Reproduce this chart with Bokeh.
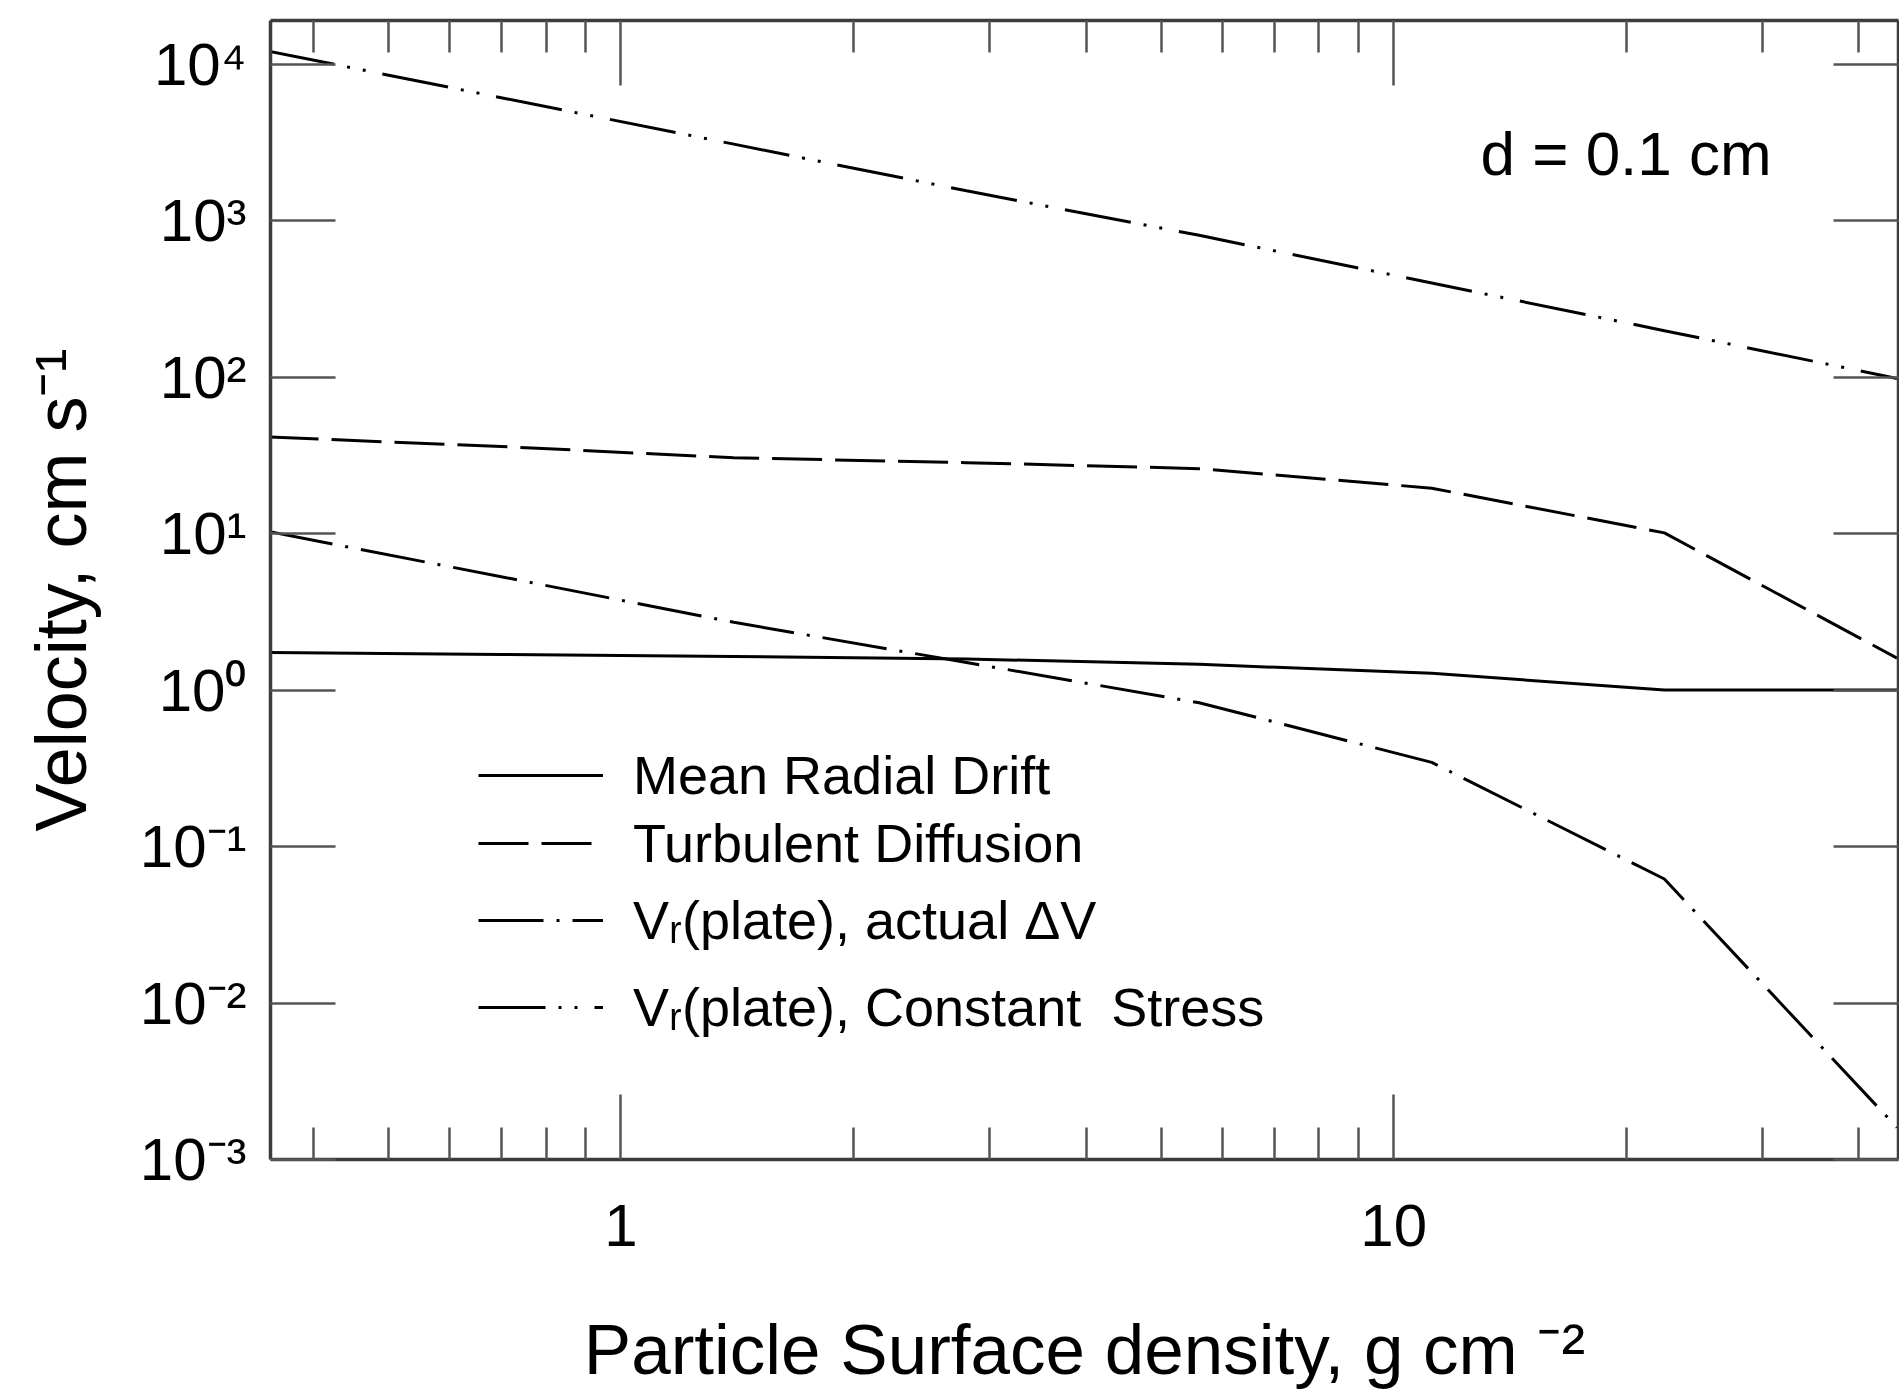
from bokeh.embed import file_html
from bokeh.models import (ColumnDataSource, CustomJSTickFormatter, FixedTicker, Label,
                          Legend, LegendItem, LogAxis, Range1d)
from bokeh.plotting import figure
from bokeh.resources import INLINE

# Particle surface density (g cm^-2) at which the velocities were evaluated
SIGMA = [0.35, 0.7, 1.4, 2.8, 5.6, 11.2, 22.4, 44.8]

# Velocities, cm s^-1
MEAN_RADIAL_DRIFT = [1.74, 1.69, 1.64, 1.58, 1.46, 1.28, 1.0, 1.0]
TURBULENT_DIFFUSION = [41.4, 36.0, 30.5, 28.4, 26.0, 19.5, 10.1, 1.6]
VR_PLATE_ACTUAL_DV = [10.3, 5.3, 2.71, 1.50, 0.83, 0.345, 0.062, 0.0016]
VR_PLATE_CONST_STRESS = [12100, 6100, 3080, 1550, 805, 399, 198, 98]

SERIES_NAMES = [
    "Mean Radial Drift",
    "Turbulent Diffusion",
    "V\u1d63(plate), actual \u0394V",
    "V\u1d63(plate), Constant  Stress",
]

X_TICKS = [1, 10]
X_TICK_LABELS = ["1", "10"]
X_MINOR_TICKS = [0.4, 0.5, 0.6, 0.7, 0.8, 0.9, 2, 3, 4, 5, 6, 7, 8, 9, 20, 30, 40]
Y_TICKS = [1e-3, 1e-2, 1e-1, 1e0, 1e1, 1e2, 1e3, 1e4]
Y_TICK_LABELS = ["10\u207b\u00b3", "10\u207b\u00b2", "10\u207b\u00b9", "10\u2070",
                 "10\u00b9", "10\u00b2", "10\u00b3", "10\u2074"]

X_TITLE = "Particle Surface density, g cm \u207b\u00b2"
Y_TITLE = "Velocity, cm s\u207b\u00b9"
NOTE = "d = 0.1 cm"

X_MIN, X_MAX = 0.352, 45.0
Y_MIN, Y_MAX = 1e-3, 1.9e4

FONT = "Liberation Sans"
INK = "#000000"

p = figure(
    width=1899, height=1398,
    x_axis_type="log", y_axis_type="log",
    x_range=Range1d(X_MIN, X_MAX), y_range=Range1d(Y_MIN, Y_MAX),
    output_backend="svg", toolbar_location=None,
    min_border_left=270, min_border_right=1, min_border_top=20, min_border_bottom=239,
    background_fill_color="white", border_fill_color="white",
)
p.outline_line_color = None
p.xgrid.visible = False
p.ygrid.visible = False

p.add_layout(LogAxis(), "above")
p.add_layout(LogAxis(), "right")

LABEL_LOOKUP = """
for (let i = 0; i < tick_values.length; i++) {
    if (Math.abs(Math.log10(tick_values[i]) - Math.log10(tick)) < 1e-6)
        return tick_labels[i];
}
return "";
"""


def style_axis(ax, ticks, labels, minor, show_labels):
    ax.ticker = FixedTicker(ticks=ticks, minor_ticks=minor)
    ax.formatter = CustomJSTickFormatter(
        args=dict(tick_values=ticks, tick_labels=labels), code=LABEL_LOOKUP)
    ax.major_tick_in = 65
    ax.major_tick_out = 0
    ax.minor_tick_in = 32
    ax.minor_tick_out = 0
    ax.axis_line_color = "#3c3c3c"
    ax.axis_line_width = 3.5
    ax.major_tick_line_color = "#555555"
    ax.major_tick_line_width = 2.5
    ax.minor_tick_line_color = "#555555" if minor else None
    ax.minor_tick_line_width = 2.5
    if show_labels:
        ax.major_label_text_font = FONT
        ax.major_label_text_font_size = "60px"
        ax.major_label_text_color = INK
        ax.axis_label_text_font = FONT
        ax.axis_label_text_font_style = "normal"
        ax.axis_label_text_color = INK
    else:
        ax.major_label_text_font_size = "0px"
        ax.major_label_text_color = None
        ax.major_label_standoff = 0


xa_below, xa_above = p.below[0], p.above[0]
ya_left, ya_right = p.left[0], p.right[0]
style_axis(xa_below, X_TICKS, X_TICK_LABELS, X_MINOR_TICKS, True)
style_axis(xa_above, X_TICKS, X_TICK_LABELS, X_MINOR_TICKS, False)
style_axis(ya_left, Y_TICKS, Y_TICK_LABELS, [], True)
style_axis(ya_right, Y_TICKS, Y_TICK_LABELS, [], False)

xa_below.axis_label = X_TITLE
xa_below.axis_label_text_font_size = "71px"
xa_below.major_label_standoff = 45
xa_below.axis_label_standoff = 61
ya_left.axis_label = Y_TITLE
ya_left.axis_label_text_font_size = "72px"
ya_left.major_label_standoff = 24
ya_left.axis_label_standoff = 36

src = ColumnDataSource(dict(
    sigma=SIGMA,
    drift=MEAN_RADIAL_DRIFT,
    turb=TURBULENT_DIFFUSION,
    actual=VR_PLATE_ACTUAL_DV,
    const=VR_PLATE_CONST_STRESS,
))

r_drift = p.line("sigma", "drift", source=src, line_color=INK, line_width=3)
r_turb = p.line("sigma", "turb", source=src, line_color=INK, line_width=3,
                line_dash="50 13")
r_actual = p.line("sigma", "actual", source=src, line_color=INK, line_width=3,
                  line_dash="65 13 3 13")
r_const = p.line("sigma", "const", source=src, line_color=INK, line_width=3,
                 line_dash="67 13 3 13 3 17")

# one legend per row so each row sits at its own height
rows = [(r_drift, 352), (r_turb, 284), (r_actual, 207), (r_const, 120)]
for (rend, vy), name in zip(rows, SERIES_NAMES):
    lg = Legend(
        items=[LegendItem(label=name, renderers=[rend])],
        location=(208, vy), orientation="vertical",
        padding=0, margin=0, spacing=0,
        glyph_width=125, glyph_height=64, label_height=64, label_standoff=30,
        label_text_font=FONT, label_text_font_size="54px", label_text_color=INK,
        label_text_baseline="middle",
        border_line_alpha=0, background_fill_alpha=0,
    )
    p.add_layout(lg)

# particle size note
p.add_layout(Label(x=X_MAX, y=Y_MAX, text=NOTE, x_offset=-418, y_offset=-133,
                   text_align="left", text_baseline="alphabetic",
                   text_font=FONT, text_font_size="62px", text_color=INK))

with open("out.html", "w") as f:
    f.write(file_html(p, INLINE))
